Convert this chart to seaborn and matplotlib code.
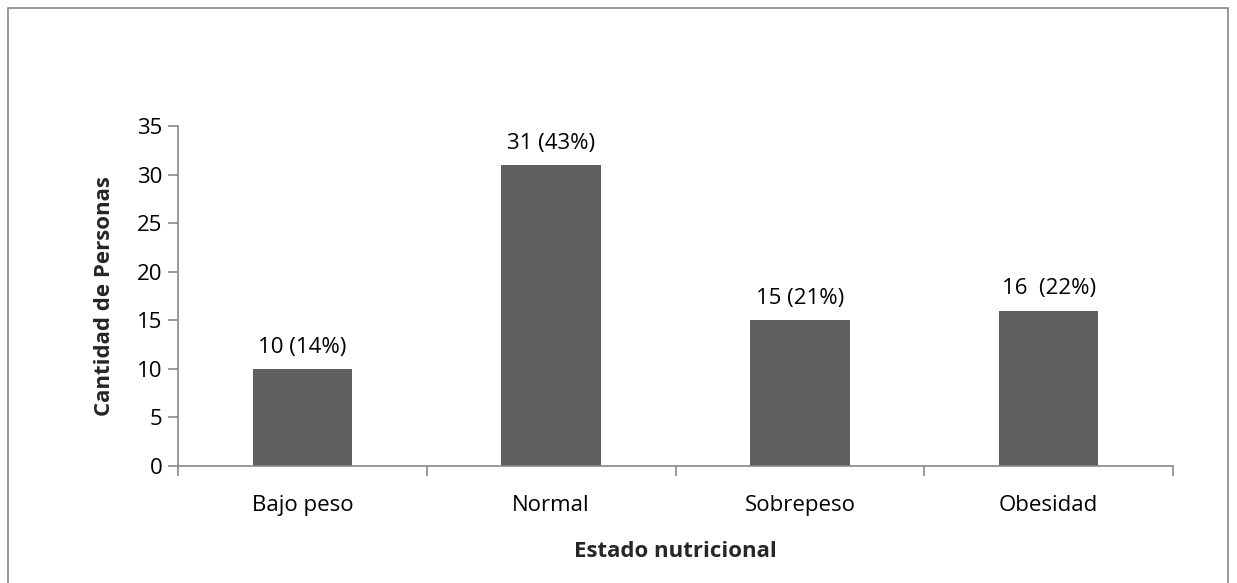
import matplotlib
matplotlib.use("Agg")
import matplotlib.pyplot as plt
import seaborn as sns
import pandas as pd
from matplotlib.patches import Rectangle

categories = ["Bajo peso", "Normal", "Sobrepeso", "Obesidad"]
values = [10, 31, 15, 16]
bar_labels = ["10 (14%)", "31 (43%)", "15 (21%)", "16  (22%)"]
y_ticks = [0, 5, 10, 15, 20, 25, 30, 35]

sns.set_theme(style="white")
plt.rcParams['font.family'] = ['Open Sans', 'DejaVu Sans']

FS = 16

df = pd.DataFrame({"cat": categories, "val": values})

fig = plt.figure(figsize=(12.37, 5.83), dpi=100)
ax = fig.add_axes([178/1237, 1-466/583, (1173-178)/1237, (466-126)/583])

sns.barplot(data=df, x="cat", y="val", order=categories, color="#606060",
            saturation=1, width=0.4, ax=ax, edgecolor="#606060", linewidth=0)

ax.set_xlim(-0.5, len(categories) - 0.5)
ax.set_ylim(0, 35)
ax.set_yticks(y_ticks)
ax.set_yticklabels([str(t) for t in y_ticks], fontsize=FS, color="black")

ax.set_xticks(range(len(categories)))
ax.set_xticklabels(categories, fontsize=FS, color="black")
ax.set_xticks([i - 0.5 for i in range(len(categories) + 1)], minor=True)
ax.tick_params(axis="x", which="major", length=0, pad=21, bottom=True)
ax.tick_params(axis="x", which="minor", length=7, width=1.2, color="#898989", direction="out", bottom=True)
ax.tick_params(axis="y", which="major", length=7, width=1.2, color="#898989", direction="out", pad=4, left=True)

for s in ["top", "right"]:
    ax.spines[s].set_visible(False)
for s in ["left", "bottom"]:
    ax.spines[s].set_color("#898989")
    ax.spines[s].set_linewidth(1.2)

for i, (v, lab) in enumerate(zip(values, bar_labels)):
    ax.text(i, v + 1.15, lab, ha="center", va="bottom", fontsize=FS, color="black")

ax.set_xlabel("Estado nutricional", fontsize=FS, fontweight="bold", labelpad=18)
ax.set_ylabel("Cantidad de Personas", fontsize=FS, fontweight="bold", labelpad=16)

fig.patches.append(Rectangle((8/1237, -0.05), (1228-8)/1237, 1.05 - 8/583, transform=fig.transFigure,
                             fill=False, edgecolor="#898989", linewidth=1.2))

fig.savefig("out.png", dpi=100)
